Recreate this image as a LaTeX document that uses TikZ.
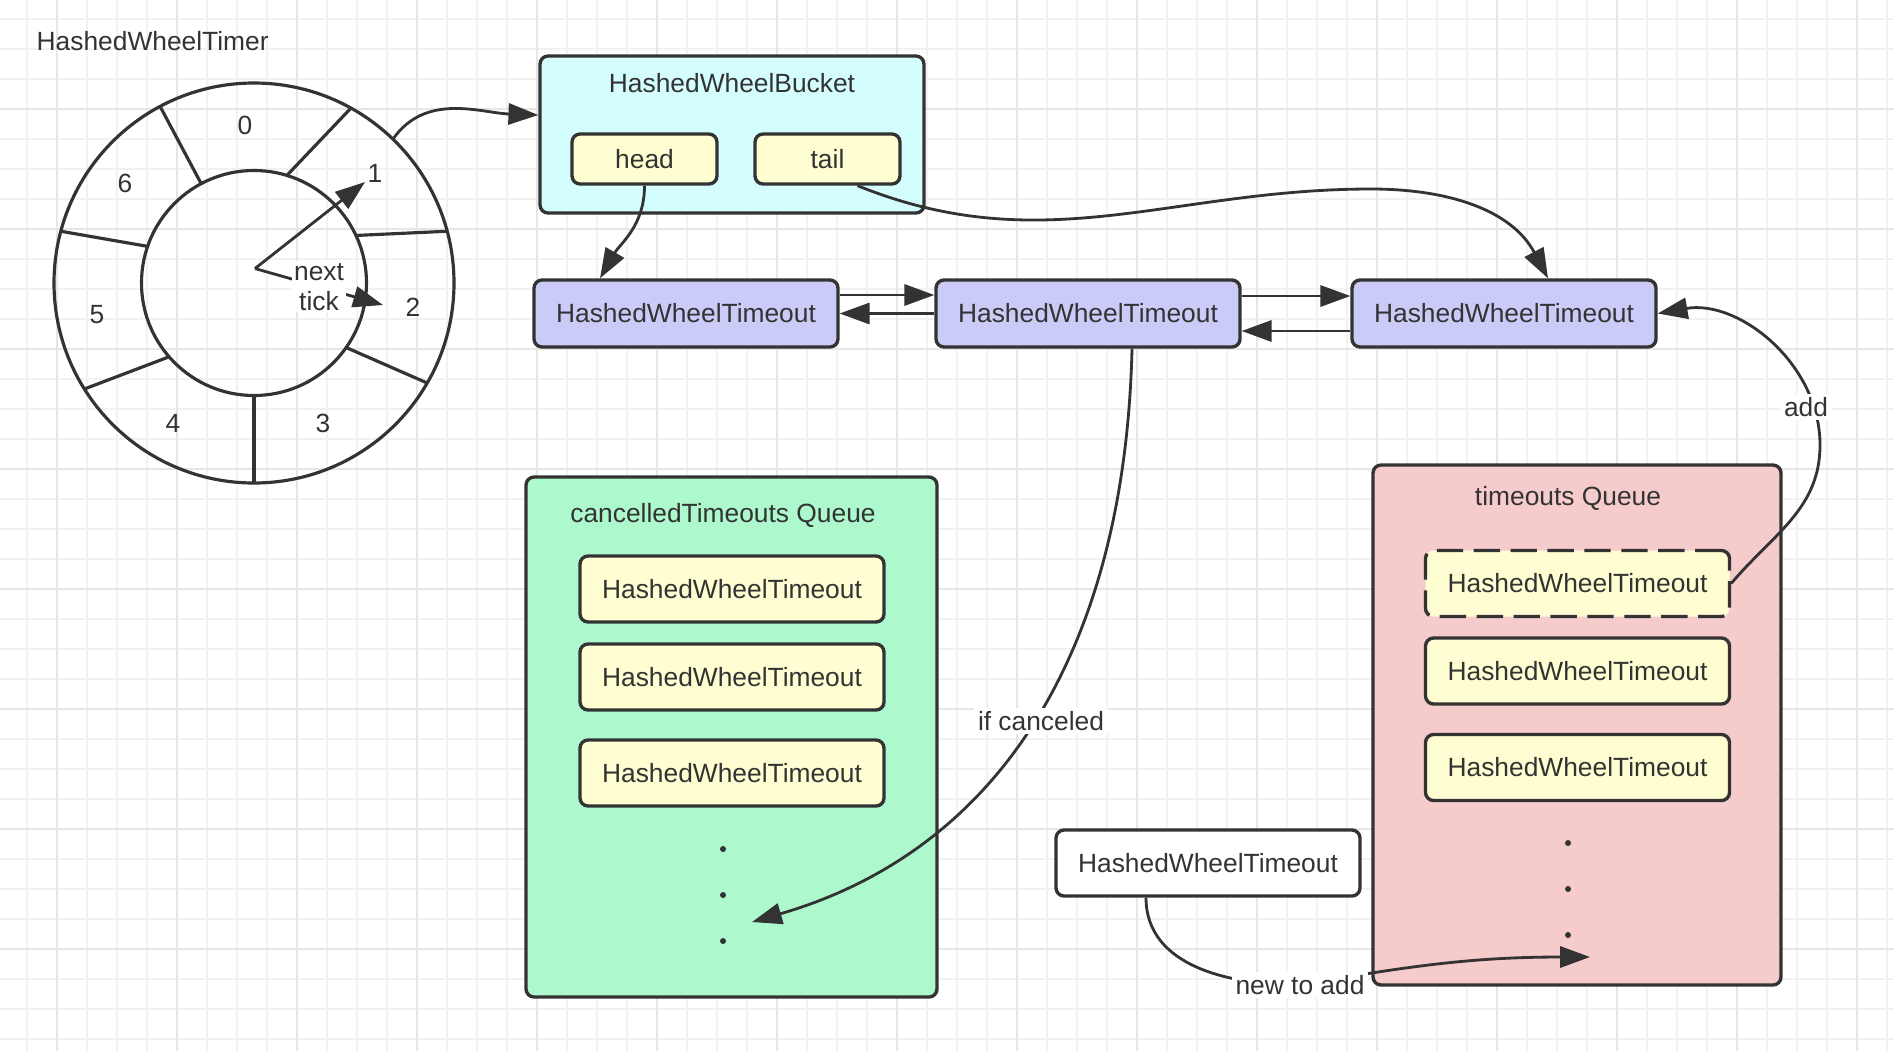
\documentclass[tikz,border=0pt]{standalone}
\usepackage{fontspec}
\setmainfont{Liberation Sans}
\usetikzlibrary{arrows.meta,calc}

\definecolor{ink}{HTML}{333333}
\definecolor{gridlo}{HTML}{F2F2F2}
\definecolor{gridhi}{HTML}{E6E6E6}
\definecolor{bucketfill}{HTML}{D4FDFD}
\definecolor{timeoutfill}{HTML}{CBCBF8}
\definecolor{entryfill}{HTML}{FFFDD2}
\definecolor{cancelfill}{HTML}{ADF8CD}
\definecolor{queuefill}{HTML}{F6CBCB}

\tikzset{
  every node/.style={font=\fontsize{7.5}{8.5}\selectfont, text=ink},
  box/.style={draw=ink, line width=0.95pt, rounded corners=2.3pt, inner sep=0pt},
  timeout/.style={box, fill=timeoutfill, minimum width=3.04cm, minimum height=0.67cm},
  entry/.style={box, fill=entryfill, minimum width=3.04cm, minimum height=0.66cm},
  ptr/.style={box, fill=entryfill, minimum width=1.45cm, minimum height=0.50cm},
  lbl/.style={fill=white, inner sep=1pt},
  link/.style={draw=ink, line width=0.8pt, -{Triangle[length=8.5pt,width=6pt]}},
  wheelline/.style={draw=ink, line width=0.9pt},
  dotmark/.style={circle, fill=ink, inner sep=0pt, minimum size=0.6mm},
}

\begin{document}
\begin{tikzpicture}
    \useasboundingbox (0,0) rectangle (18.94,-10.50);
    \fill[white] (0,0) rectangle (18.94,-10.50);
    \begin{scope}
      \clip (0,0) rectangle (18.94,-10.50);
      \draw[gridlo, line width=0.5pt, xshift=2.7mm, yshift=-1.9mm, step=0.3] (-0.6,-10.8) grid (18.9,0.3);
      \draw[gridhi, line width=0.6pt, xshift=5.7mm, yshift=-10.9mm, step=1.2] (-1.2,-10.8) grid (18.9,1.2);
    \end{scope}

    % the wheel
    \node[anchor=west, inner sep=0pt] (timer) at (0.36,-0.41) {HashedWheelTimer};
    \coordinate (wheel) at (2.54,-2.83);
    \draw[wheelline] (wheel) circle (2.0) (wheel) circle (1.125);
    \begin{scope}[shift={(wheel)}]
      \foreach \a/\b in {118/118, 73/61, 25/15, -35/-30, -90/-90, 221/212, 161/165}
        \draw[wheelline] (\a:1.125) -- (\b:2);
    \end{scope}
    \foreach \n/\x/\y in {0/2.45/-1.25, 1/3.75/-1.73, 2/4.13/-3.07, 3/3.23/-4.23, 4/1.73/-4.23, 5/0.97/-3.15, 6/1.25/-1.83}
      \node (slot\n) at (\x,\y) {\n};

    \coordinate (hub) at (2.55,-2.685);
    \coordinate (hand1) at (3.65,-1.82);
    \coordinate (hand2) at (3.83,-3.05);
    \draw[link] (hub) -- (hand1);
    \draw[link] (hub) -- node[lbl, align=center, inner sep=0.5pt] (nexttick) {next\\tick} (hand2);

    % bucket
    \node[box, fill=bucketfill, minimum width=3.84cm, minimum height=1.57cm] (bucket) at (7.32,-1.345) {};
    \node (bucketlbl) at (7.32,-0.83) {HashedWheelBucket};
    \node[ptr] (head) at (6.445,-1.59) {head};
    \node[ptr] (tail) at (8.275,-1.59) {tail};

    % timeout list
    \node[timeout] (t1) at (6.86,-3.135) {HashedWheelTimeout};
    \node[timeout] (t2) at (10.88,-3.135) {HashedWheelTimeout};
    \node[timeout] (t3) at (15.04,-3.135) {HashedWheelTimeout};

    % cancelled queue
    \node[box, fill=cancelfill, minimum width=4.11cm, minimum height=5.20cm] (cancelq) at (7.315,-7.37) {};
    \node (cancellbl) at (7.23,-5.15) {cancelledTimeouts Queue};
    \node[entry] (c1) at (7.32,-5.89) {HashedWheelTimeout};
    \node[entry] (c2) at (7.32,-6.77) {HashedWheelTimeout};
    \node[entry] (c3) at (7.32,-7.73) {HashedWheelTimeout};
    \foreach \y [count=\i] in {-8.49,-8.95,-9.41}
      \node[dotmark] (cdot\i) at (7.23,\y) {};

    % timeouts queue
    \node[box, fill=queuefill, minimum width=4.08cm, minimum height=5.20cm] (timeq) at (15.77,-7.25) {};
    \node (timelbl) at (15.68,-4.98) {timeouts Queue};
    \node[entry, dash pattern=on 7.5pt off 3pt] (d1) at (15.775,-5.835) {HashedWheelTimeout};
    \node[entry] (d2) at (15.775,-6.71) {HashedWheelTimeout};
    \node[entry] (d3) at (15.775,-7.675) {HashedWheelTimeout};
    \foreach \y [count=\i] in {-8.43,-8.89,-9.35}
      \node[dotmark] (qdot\i) at (15.68,\y) {};

    \node[box, fill=white, minimum width=3.04cm, minimum height=0.66cm] (nw) at (12.08,-8.63) {HashedWheelTimeout};

    % connectors
    \draw[link] ($(wheel)+(46:2)$) to[out=55,in=178] ([yshift=1.95mm]bucket.west);
    \draw[link] (head.south) to[out=-90,in=60] ([xshift=-8.6mm]t1.north);
    \coordinate (tailbend) at (13.71,-1.89);
    \draw[link] ([xshift=3mm]tail.south) to[out=-22,in=180] (tailbend) to[out=0,in=118] ([xshift=4.4mm]t3.north);

    \draw[link] ([yshift=1.85mm]t1.east) -- ([yshift=1.85mm]t2.west);
    \draw[link] (t2.west) -- (t1.east);
    \draw[link] ([yshift=1.75mm]t2.east) -- ([yshift=1.75mm]t3.west);
    \draw[link] ([yshift=-1.75mm]t3.west) -- ([yshift=-1.75mm]t2.east);

    \coordinate (canceltip) at (7.52,-9.22);
    \draw[link] ([xshift=4.4mm]t2.south) .. controls (11.25,-6.5) and (10.0,-8.5) .. (canceltip);

    \coordinate (addpt) at (18.20,-4.45);
    \draw[link] (d1.east) to[out=50,in=-90] (addpt) to[out=90,in=10] (t3.east);

    \coordinate (newpt) at (13.00,-9.85);
    \coordinate (queuetip) at (15.90,-9.57);
    \draw[link] ([xshift=-6.2mm]nw.south) to[out=-90,in=180] (newpt) to[out=10,in=180] (queuetip);

    % edge labels
    \node[lbl] (ifcancel) at (10.41,-7.21) {if canceled};
    \node[lbl] (addlbl) at (18.06,-4.07) {add};
    \node[lbl] (newadd) at (newpt) {new to add};
\end{tikzpicture}
\end{document}
